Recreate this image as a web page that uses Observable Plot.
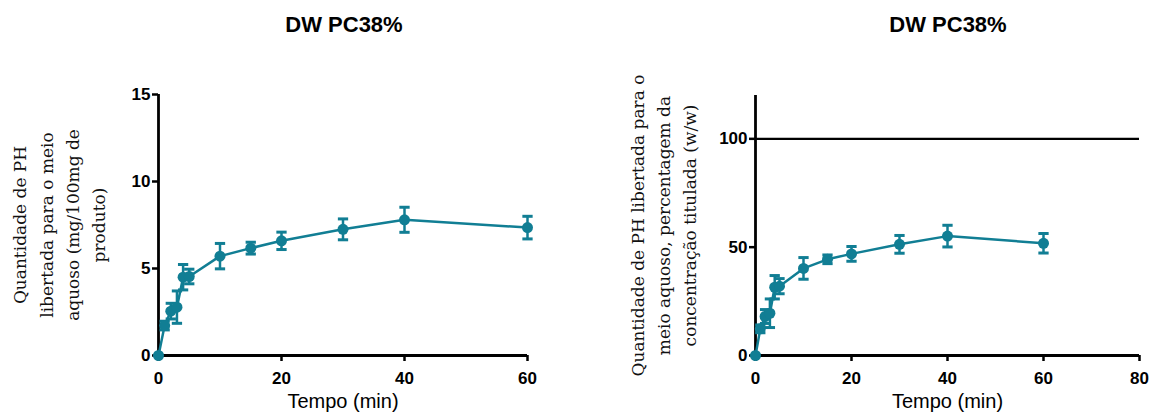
<!DOCTYPE html>
<html>
<head>
<meta charset="utf-8">
<script src="https://cdn.jsdelivr.net/npm/d3@7"></script>
<script src="https://cdn.jsdelivr.net/npm/@observablehq/plot@0.6"></script>
<style>
  body { margin: 0; background: #fff; }
  #wrap { position: relative; width: 1150px; height: 414px; overflow: hidden; font-family: "Liberation Sans", Arial, sans-serif; }
  .panel { position: absolute; top: 0; }
  .title { position: absolute; top: 12px; width: 300px; text-align: center; font-weight: bold; font-size: 22px; color: #000; }
</style>
</head>
<body>
<div id="wrap"></div>
<script>
const titleText = "DW PC38%";
const xLabel = "Tempo (min)";
const time   = [0, 1, 2, 3, 4, 5, 10, 15, 20, 30, 40, 60];
const mg     = [0, 1.72, 2.55, 2.78, 4.5, 4.54, 5.71, 6.17, 6.59, 7.25, 7.8, 7.35];
const mgErr  = [0, 0.25, 0.45, 0.93, 0.73, 0.42, 0.73, 0.34, 0.5, 0.6, 0.72, 0.65];
const pct    = [0, 12.3, 18, 19.5, 31.5, 32, 40.2, 44.4, 46.9, 51.3, 55.1, 51.8];
const pctErr = [0, 1.8, 3.2, 6.6, 5.4, 3.5, 5, 2, 3.4, 4.1, 5, 4.5];
const leftTicksX = [0, 20, 40, 60];
const leftTicksY = [0, 5, 10, 15];
const rightTicksX = [0, 20, 40, 60, 80];
const rightTicksY = [0, 50, 100];
const refLine = [100];
const leftYLabel = "Quantidade de PH\nlibertada para o meio\naquoso (mg/100mg de\nproduto)";
const rightYLabel = "Quantidade de PH libertada para o\nmeio aquoso, percentagem da\nconcentração titulada (w/w)";

const teal = "#117e94";
const capSymbol = { draw(ctx, size) { const w = Math.sqrt(size); ctx.moveTo(-w, 0); ctx.lineTo(w, 0); } };

function makeData(v, e) {
  return time.map((t, i) => ({ t, v: v[i], lo: v[i] - e[i], hi: v[i] + e[i], err: e[i] }));
}

function chart(opts) {
  const data = makeData(opts.values, opts.errors);
  const bars = data.filter(d => d.err > 0);
  return Plot.plot({
    width: 575,
    height: 414,
    marginLeft: opts.ml,
    marginRight: opts.mr,
    marginTop: opts.mt,
    marginBottom: 59,
    style: { fontFamily: "Liberation Sans, Arial, sans-serif", background: "transparent" },
    x: { domain: opts.xDomain },
    y: { domain: opts.yDomain },
    marks: [
      ...(opts.ref ? [Plot.ruleY(opts.ref, { stroke: "#000", strokeWidth: 2.2 })] : []),
      Plot.axisX({ ticks: opts.xTicks, tickSize: 6, tickPadding: 10, strokeWidth: 2.5, fontSize: 17, fontWeight: "bold", label: null, fill: "#000" }),
      Plot.axisY({ ticks: opts.yTicks, tickSize: 6, tickPadding: 2, strokeWidth: 2.5, fontSize: 17, fontWeight: "bold", label: null, fill: "#000" }),
      Plot.ruleY([opts.yDomain[0]], { stroke: "#000", strokeWidth: 2.8 }),
      Plot.ruleX([opts.xDomain[0]], { stroke: "#000", strokeWidth: 2.8 }),
      Plot.ruleX(bars, { x: "t", y1: "lo", y2: "hi", stroke: teal, strokeWidth: 2.5 }),
      Plot.dot(bars, { x: "t", y: "hi", symbol: capSymbol, r: 2.9, stroke: teal, strokeWidth: 3 }),
      Plot.dot(bars, { x: "t", y: "lo", symbol: capSymbol, r: 2.9, stroke: teal, strokeWidth: 3 }),
      Plot.line(data, { x: "t", y: "v", stroke: teal, strokeWidth: 2.5 }),
      Plot.dot(data, { x: "t", y: "v", r: 5.5, fill: teal }),
      Plot.text([opts.yLabel], { frameAnchor: "left", dx: opts.ylDx, rotate: -90, textAnchor: "middle", lineAnchor: "middle", lineHeight: 1.55, fontSize: 17, fontFamily: "DejaVu Serif, serif", fill: "#111" }),
      Plot.text([xLabel], { frameAnchor: "bottom", dy: 46, textAnchor: "middle", lineAnchor: "middle", fontSize: 20, fill: "#000" })
    ]
  });
}

const wrap = document.getElementById("wrap");

const left = chart({ values: mg, errors: mgErr, xDomain: [0, 60], yDomain: [0, 15], xTicks: leftTicksX, yTicks: leftTicksY,
  ml: 158, mr: 48, mt: 94, yLabel: leftYLabel, ylDx: -101 });
left.classList.add("panel"); left.style.left = "0px";
wrap.appendChild(left);

const right = chart({ values: pct, errors: pctErr, xDomain: [0, 80], yDomain: [0, 120], xTicks: rightTicksX, yTicks: rightTicksY,
  ml: 180, mr: 11, mt: 95, yLabel: rightYLabel, ylDx: -94, ref: refLine });
right.classList.add("panel"); right.style.left = "575px";
wrap.appendChild(right);

const t1 = document.createElement("div"); t1.className = "title"; t1.textContent = titleText; t1.style.left = (344 - 150) + "px"; wrap.appendChild(t1);
const t2 = document.createElement("div"); t2.className = "title"; t2.textContent = titleText; t2.style.left = (948 - 150) + "px"; wrap.appendChild(t2);
</script>
</body>
</html>
